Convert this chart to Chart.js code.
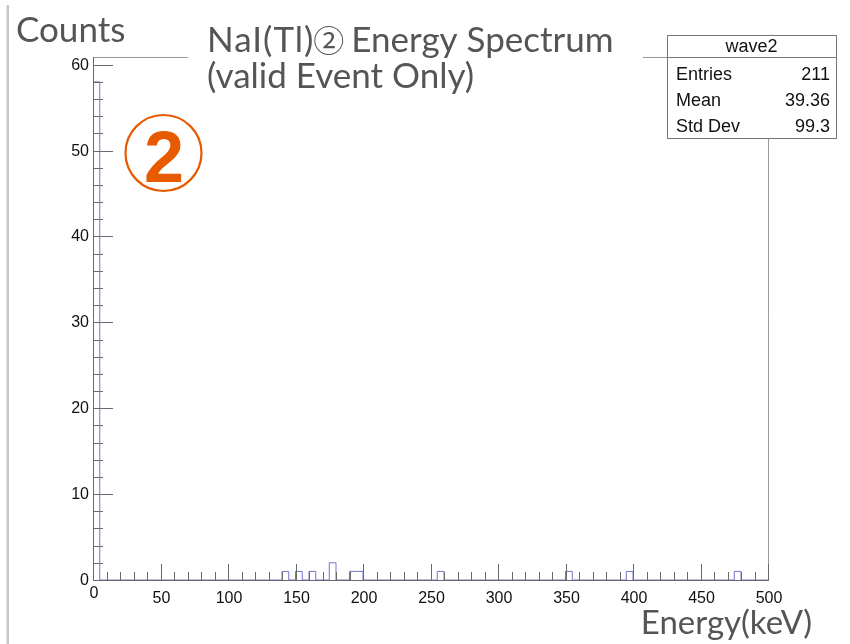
<!DOCTYPE html>
<html>
<head>
<meta charset="utf-8">
<script src="https://cdn.jsdelivr.net/npm/chart.js@4"></script>
<style>
  html, body { margin: 0; padding: 0; background: #fff; }
  canvas { display: block; }
</style>
</head>
<body>
<canvas id="spectrum" width="850" height="644"></canvas>
<script>
// NaI(Tl) detector #2 energy histogram, 5 keV bins from 0 to 500 keV
const binWidth = 5;
const xMin = 0;
const xMax = 500;
const yMax = 60.9;
// filled bins: lower edge (keV) and entries
const binLowEdges = [0, 140, 150, 160, 175, 190, 195, 255, 350, 395, 475];
const binCounts   = [58, 1, 1, 1, 2, 1, 1, 1, 1, 1, 1];

const xTickLabels = ['0', '50', '100', '150', '200', '250', '300', '350', '400', '450', '500'];
const yTickLabels = ['0', '10', '20', '30', '40', '50', '60'];

// first title line is drawn in three runs so the circled digit can use its own font
const titleRuns = ['NaI(Tl)', '\u2461', ' Energy Spectrum'];
const titleLine2 = '(valid Event Only)';
const yAxisTitle = 'Counts';
const xAxisTitle = 'Energy(keV)';
const statsName = 'wave2';
const statsLabels = ['Entries', 'Mean', 'Std Dev'];
const statsValues = ['211', '39.36', '99.3'];
const markerText = '2';

// full histogram contents, one value per bin
const nBins = (xMax - xMin) / binWidth;
const contents = new Array(nBins).fill(0);
binLowEdges.forEach((lo, i) => { contents[Math.round((lo - xMin) / binWidth)] = binCounts[i]; });

// outline points: each bin value is held until the next bin edge
const outline = [{ x: xMin, y: 0 }];
contents.forEach((c, i) => {
  outline.push({ x: xMin + i * binWidth, y: c });
});
outline.push({ x: xMax, y: contents[nBins - 1] });
outline.push({ x: xMax, y: 0 });

const SANS = '"Liberation Sans", Arial, sans-serif';
const LATO = 'Lato, "Noto Sans", sans-serif';
const CJK = '"Noto Sans CJK JP", "DejaVu Sans", sans-serif';

const decorations = {
  id: 'decorations',
  beforeDraw(chart) {
    const ctx = chart.ctx;
    ctx.save();
    ctx.fillStyle = '#ffffff';
    ctx.fillRect(0, 0, chart.width, chart.height);
    // pad edge
    ctx.fillStyle = '#c6c6c6';
    ctx.fillRect(6.5, 5, 2.5, chart.height - 5);
    ctx.restore();
  },
  afterDatasetsDraw(chart) {
    const ctx = chart.ctx;
    const xs = chart.scales.x, ys = chart.scales.y;
    const a = chart.chartArea;
    ctx.save();

    // frame
    ctx.lineWidth = 1;
    ctx.strokeStyle = '#9a9a9a';
    ctx.beginPath();
    ctx.moveTo(a.left, a.top + 0.5);
    ctx.lineTo(a.right + 0.5, a.top + 0.5);
    ctx.lineTo(a.right + 0.5, a.bottom);
    ctx.stroke();

    // axes
    ctx.strokeStyle = '#6a6a6a';
    ctx.beginPath();
    ctx.moveTo(a.left + 0.5, a.top);
    ctx.lineTo(a.left + 0.5, a.bottom + 0.5);
    ctx.lineTo(a.right + 1, a.bottom + 0.5);
    ctx.stroke();

    // y ticks: major every 10, minor every 2
    ctx.beginPath();
    for (let v = 0; v <= 60; v += 2) {
      const py = Math.round(ys.getPixelForValue(v)) + 0.5;
      const len = (v % 10 === 0) ? 20 : 10;
      ctx.moveTo(a.left, py);
      ctx.lineTo(a.left + len, py);
    }
    // x ticks: major every 50, minor every 10
    for (let v = xMin; v <= xMax; v += 10) {
      const px = Math.round(xs.getPixelForValue(v)) + 0.5;
      const len = (v % 50 === 0) ? 16 : 8;
      ctx.moveTo(px, a.bottom);
      ctx.lineTo(px, a.bottom - len);
    }
    ctx.stroke();

    // tick labels
    ctx.fillStyle = '#111';
    ctx.font = '16px ' + SANS;
    ctx.textAlign = 'right';
    ctx.textBaseline = 'middle';
    yTickLabels.forEach(t => {
      ctx.fillText(t, a.left - 4, ys.getPixelForValue(Number(t)) + 0.5);
    });
    ctx.textAlign = 'center';
    ctx.textBaseline = 'top';
    xTickLabels.forEach(t => {
      const v = Number(t);
      ctx.fillText(t, xs.getPixelForValue(v) + 1, a.bottom + (v === xMin ? 6 : 11));
    });

    // title box covers the frame top
    ctx.fillStyle = '#fff';
    ctx.fillRect(188, 10, 455, 92);
    ctx.fillStyle = '#555';
    ctx.textAlign = 'left';
    ctx.textBaseline = 'alphabetic';
    let tx = 207;
    ctx.font = '35px ' + LATO;
    ctx.letterSpacing = '1px';
    ctx.fillText(titleRuns[0], tx, 52);
    tx += ctx.measureText(titleRuns[0]).width - 1;
    ctx.letterSpacing = '0px';
    ctx.font = '31px ' + CJK;
    ctx.fillText(titleRuns[1], tx, 52);
    tx += ctx.measureText(titleRuns[1]).width - 2;
    ctx.font = '35px ' + LATO;
    ctx.fillText(titleRuns[2], tx, 52);
    ctx.fillText(titleLine2, 207, 88);

    // axis titles
    ctx.font = '35px ' + LATO;
    ctx.fillText(yAxisTitle, 16, 42);
    ctx.textAlign = 'right';
    ctx.font = '33px ' + LATO;
    ctx.fillText(xAxisTitle, 812, 634);

    // statistics box
    const bx = 667, by = 35, bw = 169, bh = 103;
    ctx.fillStyle = '#fff';
    ctx.fillRect(bx, by, bw, bh);
    ctx.strokeStyle = '#777';
    ctx.lineWidth = 1;
    ctx.strokeRect(bx + 0.5, by + 0.5, bw, bh);
    ctx.beginPath();
    ctx.moveTo(bx, by + 22.5);
    ctx.lineTo(bx + bw, by + 22.5);
    ctx.stroke();
    ctx.fillStyle = '#111';
    ctx.font = '18px ' + SANS;
    ctx.textAlign = 'center';
    ctx.textBaseline = 'middle';
    ctx.fillText(statsName, bx + bw / 2, by + 12);
    statsLabels.forEach((lab, i) => {
      const py = by + 40 + i * 26;
      ctx.textAlign = 'left';
      ctx.fillText(lab, bx + 9, py);
      ctx.textAlign = 'right';
      ctx.fillText(statsValues[i], bx + bw - 6, py);
    });

    // detector marker
    ctx.strokeStyle = '#e85a00';
    ctx.lineWidth = 2.2;
    ctx.beginPath();
    ctx.arc(163.5, 153, 38, 0, Math.PI * 2);
    ctx.stroke();
    ctx.fillStyle = '#e85a00';
    ctx.font = 'bold 72px ' + SANS;
    ctx.textAlign = 'center';
    ctx.textBaseline = 'alphabetic';
    ctx.fillText(markerText, 164, 182);

    ctx.restore();
  }
};

new Chart(document.getElementById('spectrum'), {
  type: 'line',
  data: {
    datasets: [{
      data: outline,
      stepped: 'before',
      borderColor: '#7474cc',
      borderWidth: 1,
      pointRadius: 0,
      fill: false
    }]
  },
  options: {
    responsive: false,
    animation: false,
    devicePixelRatio: 1,
    layout: { padding: { left: 93, right: 82, top: 57, bottom: 64 } },
    plugins: { legend: { display: false }, tooltip: { enabled: false } },
    scales: {
      x: { type: 'linear', min: xMin, max: xMax, display: false },
      y: { type: 'linear', min: 0, max: yMax, display: false }
    }
  },
  plugins: [decorations]
});
</script>
</body>
</html>
